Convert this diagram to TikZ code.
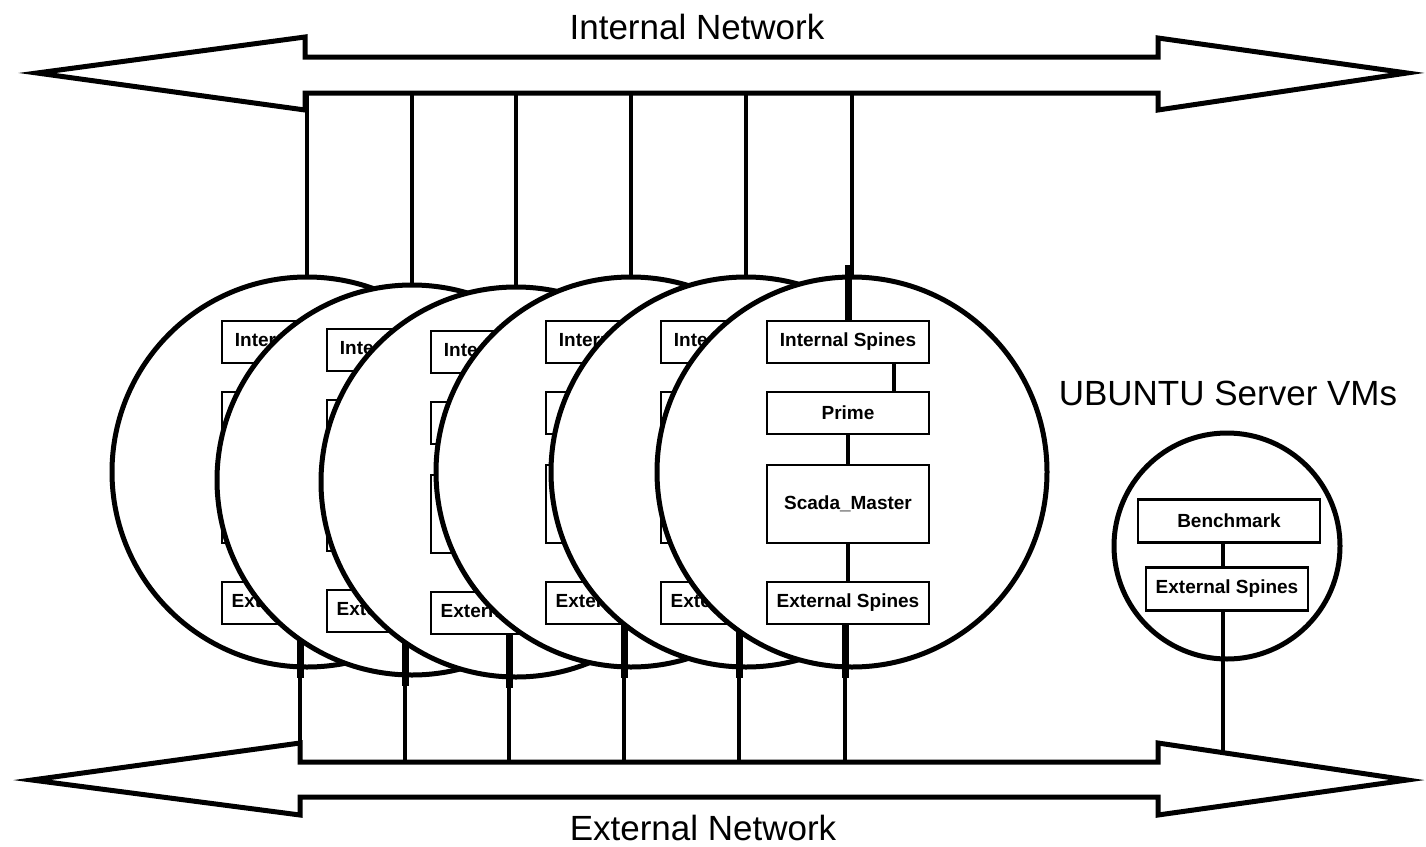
\documentclass[tikz,border=0pt]{standalone}
\usepackage{fontspec}
\setmainfont{Liberation Sans}
\usetikzlibrary{positioning}
\tikzset{
    Box/.style = {rectangle, draw=black, line width=2.5pt, fill=white, minimum width=162pt, minimum height=42pt, inner sep=0pt, font=\bfseries\fontsize{19}{22}\selectfont},
    VM/.style = {circle, draw=black, line width=5pt, fill=white, inner sep=0pt, minimum size=390pt}
}
\tikzset{
    Link/.style = {draw=black, line width=3.5pt},
    Stub/.style = {draw=black, line width=7pt},
    Net/.style = {draw=black, line width=5pt, line join=miter},
    Label/.style = {inner sep=0pt, font=\fontsize{35}{40}\selectfont}
}

\begin{document}
\begin{tikzpicture}[x=1pt, y=-1pt]
\useasboundingbox (0,0) rectangle (1426,846);
% the two networks
\draw[Net] (37,73) -- (305,37) -- (305,57) -- (1158,57) -- (1158,38) -- (1407,73) -- (1158,110) -- (1158,93) -- (305,93) -- (305,110) -- cycle;
\draw[Net] (32,780) -- (300,743) -- (300,762) -- (1158,762) -- (1158,743) -- (1407,780) -- (1158,815) -- (1158,797) -- (300,797) -- (300,815) -- cycle;
\coordinate (intbus) at (0,93);
\coordinate (extbus) at (0,762);
\coordinate (exthead) at (0,752);
\node[Label] (intnet) at (697,27) {Internal Network};
\node[Label] (extnet) at (703,828) {External Network};
\node[Label] (ubuntu) at (1228,393) {UBUNTU Server VMs};
% server VMs, back to front
\foreach \i/\cx/\cy in {1/307/472, 2/412/480, 3/516/482, 4/631/472, 5/746/472, 6/852/472}{
    \node[VM] (vm\i) at (\cx,\cy) {};
    \draw[Link] (vm\i.north |- intbus) -- (vm\i.north);
    \node[Box] (is\i) at (\cx-4,\cy-130) {Internal Spines};
    \node[Box] (pr\i) at (\cx-4,\cy-59) {Prime};
    \node[Box, minimum height=78pt] (sm\i) at (\cx-4,\cy+32) {Scada\_Master};
    \node[Box] (es\i) at (\cx-4,\cy+131) {External Spines};
    \draw[Link] ([xshift=46pt]is\i.south) -- ([xshift=46pt]pr\i.north);
    \draw[Link] (pr\i) -- (sm\i);
    \draw[Link] (sm\i) -- (es\i);
    \draw[Link] ([xshift=-3pt]es\i.south) -- ([xshift=-3pt]es\i.south |- extbus);
    \draw[Stub] ([xshift=-3pt]es\i.south) -- ++(0,53);
}
\draw[Stub] (is6.north) -- ++(0,-55);
% benchmark VM
\node[VM, minimum size=226pt] (bvm) at (1227,546) {};
\node[Box, minimum width=182pt, minimum height=43pt] (bm) at (1229,521) {Benchmark};
\node[Box, minimum height=43pt] (bes) at (1227,589) {External Spines};
\draw[Link] ([xshift=-6pt]bm.south) -- ([xshift=-4pt]bes.north);
\draw[Link] ([xshift=-4pt]bes.south) -- ([xshift=-4pt]bes.south |- exthead);
\end{tikzpicture}
\end{document}
